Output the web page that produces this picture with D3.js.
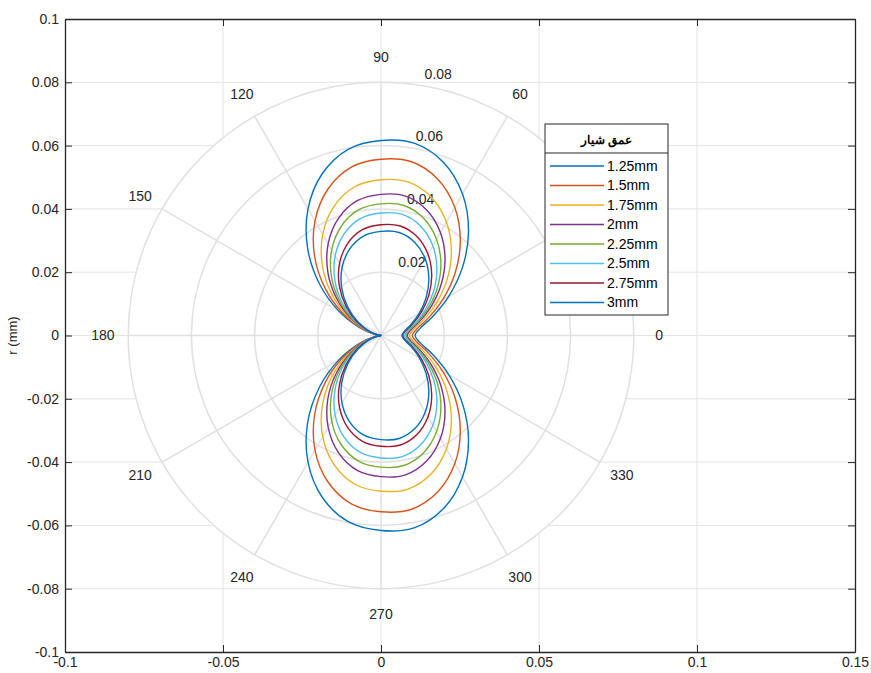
<!DOCTYPE html>
<html><head><meta charset="utf-8">
<script src="https://cdn.jsdelivr.net/npm/d3@7"></script>
<style>body{margin:0;background:#fff}text{font-family:"Liberation Sans",Arial,sans-serif}</style>
</head><body>
<svg id="c" width="871" height="673"></svg>
<script>
// ---- data ----
const angles = [0,10,20,30,40,50,60,70,80,90,100,110,120,130,140,150,160,170,180,190,200,210,220,230,240,250,260,270,280,290,300,310,320,330,340,350];
const seriesNames = ["1.25mm","1.5mm","1.75mm","2mm","2.25mm","2.5mm","2.75mm","3mm"];
const r125 = [0.0108,0.01249,0.01736,0.02475,0.03373,0.04309,0.0516,0.05809,0.06162,0.0616,0.05974,0.05439,0.0462,0.03615,0.02545,0.0154,0.00721,0.00186,0,0.00186,0.00721,0.0154,0.02545,0.03615,0.0462,0.05439,0.05974,0.0616,0.06162,0.05809,0.0516,0.04309,0.03373,0.02475,0.01736,0.01249];
const r150 = [0.0099,0.01143,0.01582,0.0225,0.0306,0.03905,0.04673,0.05257,0.05574,0.0557,0.05402,0.04918,0.04178,0.03269,0.02301,0.01393,0.00652,0.00168,0,0.00168,0.00652,0.01393,0.02301,0.03269,0.04178,0.04918,0.05402,0.0557,0.05574,0.05257,0.04673,0.03905,0.0306,0.0225,0.01582,0.01143];
const r175 = [0.009,0.01035,0.01421,0.02009,0.02722,0.03466,0.0414,0.04652,0.04928,0.0492,0.04772,0.04344,0.0369,0.02887,0.02033,0.0123,0.00576,0.00148,0,0.00148,0.00576,0.0123,0.02033,0.02887,0.0369,0.04344,0.04772,0.0492,0.04928,0.04652,0.0414,0.03466,0.02722,0.02009,0.01421,0.01035];
const r200 = [0.0083,0.00952,0.01302,0.01834,0.02479,0.03151,0.0376,0.04222,0.0447,0.0446,0.04326,0.03938,0.03345,0.02617,0.01843,0.01115,0.00522,0.00134,0,0.00134,0.00522,0.01115,0.01843,0.02617,0.03345,0.03938,0.04326,0.0446,0.0447,0.04222,0.0376,0.03151,0.02479,0.01834,0.01302,0.00952];
const r225 = [0.0079,0.00903,0.01229,0.01724,0.02324,0.02949,0.03515,0.03944,0.04172,0.0416,0.04035,0.03673,0.0312,0.02441,0.01719,0.0104,0.00487,0.00125,0,0.00125,0.00487,0.0104,0.01719,0.02441,0.0312,0.03673,0.04035,0.0416,0.04172,0.03944,0.03515,0.02949,0.02324,0.01724,0.01229,0.00903];
const r250 = [0.0075,0.00855,0.01158,0.01617,0.02174,0.02753,0.03278,0.03674,0.03884,0.0387,0.03753,0.03417,0.02903,0.02271,0.01599,0.00968,0.00453,0.00117,0,0.00117,0.00453,0.00968,0.01599,0.02271,0.02903,0.03417,0.03753,0.0387,0.03884,0.03674,0.03278,0.02753,0.02174,0.01617,0.01158,0.00855];
const r275 = [0.0069,0.00785,0.01058,0.01473,0.01975,0.02497,0.0297,0.03327,0.03514,0.035,0.03394,0.03091,0.02625,0.02054,0.01446,0.00875,0.00409,0.00106,0,0.00106,0.00409,0.00875,0.01446,0.02054,0.02625,0.03091,0.03394,0.035,0.03514,0.03327,0.0297,0.02497,0.01975,0.01473,0.01058,0.00785];
const r300 = [0.0066,0.00749,0.01005,0.01394,0.01865,0.02355,0.02798,0.03131,0.03305,0.0329,0.03191,0.02905,0.02468,0.01931,0.01359,0.00823,0.00385,0.00099,0,0.00099,0.00385,0.00823,0.01359,0.01931,0.02468,0.02905,0.03191,0.0329,0.03305,0.03131,0.02798,0.02355,0.01865,0.01394,0.01005,0.00749];
const seriesValues = [r125,r150,r175,r200,r225,r250,r275,r300];
const colors = ["#0072BD","#D95319","#EDB120","#7E2F8E","#77AC30","#4DBEEE","#A2142F","#0072BD"];
const xTicks = [-0.1,-0.05,0,0.05,0.1,0.15];
const xTickLabels = ["-0.1","-0.05","0","0.05","0.1","0.15"];
const yTicks = [-0.1,-0.08,-0.06,-0.04,-0.02,0,0.02,0.04,0.06,0.08,0.1];
const yTickLabels = ["-0.1","-0.08","-0.06","-0.04","-0.02","0","0.02","0.04","0.06","0.08","0.1"];
const rRings = [0.02,0.04,0.06,0.08];
const rRingLabels = ["0.02","0.04","0.06","0.08"];
const spokeAngles = [0,30,60,90,120,150];
// the 30° label sits under the legend in the reference, so it is not shown
const angleLabels = [0,60,90,120,150,180,210,240,270,300,330];
const legendTitle = "عمق شیار";
const yLabel = "r (mm)";

// ---- layout ----
const svg = d3.select("#c");
const x = d3.scaleLinear().domain([-0.1,0.15]).range([65,855]);
const y = d3.scaleLinear().domain([-0.1,0.1]).range([652,19]);
const rmax = d3.max(rRings);
const rad = a => a*Math.PI/180;
const ink = "#262626";

svg.append("rect").attr("width",871).attr("height",673).attr("fill","#fff");

// cartesian grid
const g0 = svg.append("g");
g0.selectAll(".gx").data(xTicks.slice(1,-1)).join("line")
  .attr("x1",d=>x(d)).attr("x2",d=>x(d)).attr("y1",y(0.1)).attr("y2",y(-0.1))
  .attr("stroke","#e4e4e4").attr("stroke-width",1);
g0.selectAll(".gy").data(yTicks.slice(1,-1)).join("line")
  .attr("y1",d=>y(d)).attr("y2",d=>y(d)).attr("x1",x(-0.1)).attr("x2",x(0.15))
  .attr("stroke","#e4e4e4").attr("stroke-width",1);

// polar background patch
svg.append("ellipse").attr("cx",x(0)).attr("cy",y(0))
  .attr("rx",x(rmax)-x(0)).attr("ry",y(0)-y(rmax)).attr("fill","#fff");

// polar grid
const pg = svg.append("g").attr("fill","none").attr("stroke","#e0e0e0").attr("stroke-width",1.5);
pg.selectAll("ellipse").data(rRings).join("ellipse")
  .attr("cx",x(0)).attr("cy",y(0)).attr("rx",d=>x(d)-x(0)).attr("ry",d=>y(0)-y(d));
pg.selectAll("line").data(spokeAngles).join("line")
  .attr("x1",d=>x(-rmax*Math.cos(rad(d)))).attr("y1",d=>y(-rmax*Math.sin(rad(d))))
  .attr("x2",d=>x(rmax*Math.cos(rad(d)))).attr("y2",d=>y(rmax*Math.sin(rad(d))));

// angle labels
svg.append("g").selectAll("text").data(angleLabels).join("text")
  .attr("x",d=>x(1.1*rmax*Math.cos(rad(d)))).attr("y",d=>y(1.1*rmax*Math.sin(rad(d))))
  .attr("dy","0.35em").attr("text-anchor","middle").attr("font-size",14).attr("fill",ink)
  .text(d=>String(d));

// radial labels at 82 deg
svg.append("g").selectAll("text").data(rRings).join("text")
  .attr("x",d=>x((d+rmax/80)*Math.cos(rad(82)))+8).attr("y",d=>y((d+rmax/80)*Math.sin(rad(82)))-3)
  .attr("text-anchor","start").attr("font-size",14).attr("fill",ink)
  .text((d,i)=>rRingLabels[i]);

// curves
const line = d3.line().x(d=>x(d[1]*Math.cos(rad(d[0])))).y(d=>y(d[1]*Math.sin(rad(d[0]))))
  .curve(d3.curveCatmullRomClosed.alpha(0.5));
svg.append("g").attr("fill","none").selectAll("path").data(seriesValues).join("path")
  .attr("d",vals=>line(angles.map((a,i)=>[a,vals[i]])))
  .attr("stroke",(d,i)=>colors[i]).attr("stroke-width",1.4);

// axes
const ax = svg.append("g").attr("font-size",14);
ax.append("g").attr("transform",`translate(0,${y(-0.1)})`)
  .call(d3.axisBottom(x).tickValues(xTicks).tickFormat((d,i)=>xTickLabels[i]).tickSize(-7).tickSizeOuter(0).tickPadding(5));
ax.append("g").attr("transform",`translate(${x(-0.1)},0)`)
  .call(d3.axisLeft(y).tickValues(yTicks).tickFormat((d,i)=>yTickLabels[i]).tickSize(-7).tickSizeOuter(0).tickPadding(6));
ax.append("g").attr("transform",`translate(0,${y(0.1)})`)
  .call(d3.axisTop(x).tickValues(xTicks).tickFormat("").tickSize(-7).tickSizeOuter(0));
ax.append("g").attr("transform",`translate(${x(0.15)},0)`)
  .call(d3.axisRight(y).tickValues(yTicks).tickFormat("").tickSize(-7).tickSizeOuter(0));
ax.selectAll("text").attr("fill",ink).attr("font-family",'"Liberation Sans",Arial,sans-serif').attr("font-size",14);
ax.selectAll("line").attr("stroke",ink);
ax.selectAll(".domain").attr("stroke",ink).attr("stroke-width",1.3);

svg.append("text").attr("transform",`translate(17,${y(0)}) rotate(-90)`)
  .attr("text-anchor","middle").attr("font-size",13).attr("fill",ink).text(yLabel);

// legend
const L = {x:545,y:124,w:123,h:191};
const lg = svg.append("g");
lg.append("rect").attr("x",L.x).attr("y",L.y).attr("width",L.w).attr("height",L.h)
  .attr("fill","#fff").attr("stroke",ink).attr("stroke-width",1);
lg.append("line").attr("x1",L.x).attr("x2",L.x+L.w).attr("y1",L.y+29).attr("y2",L.y+29)
  .attr("stroke",ink).attr("stroke-width",1);
lg.append("text").attr("x",L.x+L.w/2).attr("y",L.y+16).attr("dy","0.35em")
  .attr("text-anchor","middle").attr("font-family",'"DejaVu Sans",sans-serif')
  .attr("font-weight","bold").attr("font-size",12).attr("fill","#000").text(legendTitle);
const rows = lg.selectAll(".row").data(seriesNames).join("g")
  .attr("transform",(d,i)=>`translate(0,${L.y+42+i*19.5})`);
rows.append("line").attr("x1",L.x+5).attr("x2",L.x+59).attr("stroke",(d,i)=>colors[i]).attr("stroke-width",1.4);
rows.append("text").attr("x",L.x+62).attr("dy","0.35em").attr("font-size",14).attr("fill","#000").text(d=>d);
</script>
</body></html>
